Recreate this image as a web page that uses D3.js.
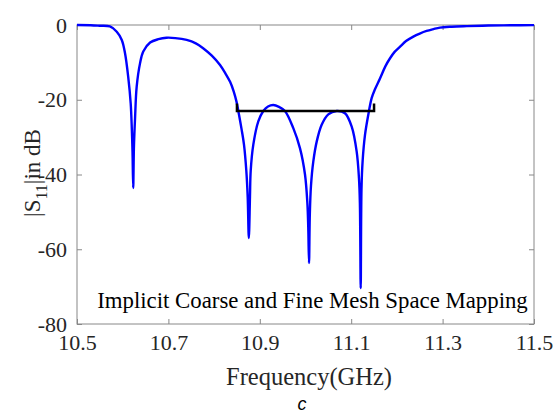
<!DOCTYPE html>
<html><head><meta charset="utf-8">
<script src="https://cdn.jsdelivr.net/npm/d3@7"></script>
<style>body{margin:0;background:#fff}svg{display:block}</style>
</head><body>
<script>
const freq = [10.50,10.53,10.55,10.572,10.587,10.598,10.605,10.612,10.6175,10.620,10.6215,10.623,10.6245,10.627,10.6306,10.638,10.645,10.660,10.678,10.696,10.715,10.74,10.76,10.776,10.795,10.813,10.825,10.835,10.843,10.849,10.8545,10.8600,10.8654,10.8705,10.8735,10.876,10.8785,10.8801,10.8858,10.8967,10.9077,10.918,10.9295,10.942,10.955,10.9733,10.988,10.9989,11.004,11.006,11.0077,11.0095,11.012,11.0171,11.0245,11.0354,11.0499,11.0683,11.0864,11.1011,11.112,11.117,11.119,11.1208,11.1225,11.125,11.1302,11.1374,11.1449,11.152,11.163,11.175,11.185,11.195,11.207,11.22,11.236,11.25,11.265,11.28,11.294,11.32,11.353,11.4,11.45,11.5];
const s11 = [0,-0.05,-0.2,-0.4,-1.8,-4,-7.5,-13.8,-21,-28,-34,-43.6,-33,-25,-16.5,-10.2,-7.1,-4.7,-3.8,-3.4,-3.5,-4.0,-4.9,-6.2,-8.2,-10.7,-13,-15.2,-17.8,-20.5,-24,-27.8,-32,-39,-46,-57,-46,-39,-32,-25.8,-23,-21.8,-21.4,-21.9,-23,-27.6,-33,-40,-47.5,-54,-63.7,-50.5,-43,-36.5,-31.2,-26.7,-23.9,-23,-23.6,-27.2,-33.9,-41,-47.6,-70.4,-44,-36.4,-29.4,-24,-19.5,-17.2,-14.3,-11,-8.9,-7.2,-5.8,-4.3,-3.1,-2.3,-1.6,-1.1,-0.7,-0.45,-0.3,-0.15,-0.07,-0.03];
const specFreq = [10.85, 11.15];
const specLevel = -23;
const specTop = -21;
const xTicks = [10.5,10.7,10.9,11.1,11.3,11.5];
const yTicks = [0,-20,-40,-60,-80];
const annotation = "Implicit Coarse and Fine Mesh Space Mapping";

const W=560,H=415;
const m={l:77,t:25,r:534,b:324};
const svg=d3.select("body").append("svg").attr("width",W).attr("height",H);
const x=d3.scaleLinear().domain([10.5,11.5]).range([m.l,m.r]);
const y=d3.scaleLinear().domain([-80,0]).range([m.b,m.t]);
const axCol="#262626", lineCol="#888";
const serif="'Liberation Serif','Times New Roman',serif";

// box
svg.append("rect").attr("x",m.l).attr("y",m.t).attr("width",m.r-m.l).attr("height",m.b-m.t)
  .attr("fill","none").attr("stroke",lineCol).attr("stroke-width",1);

// axes
const fmtX=d=>d3.format(".1f")(d);
const xb=svg.append("g").attr("transform",`translate(0,${m.b})`)
  .call(d3.axisBottom(x).tickValues(xTicks).tickSizeInner(-5).tickSizeOuter(0).tickPadding(10).tickFormat(fmtX));
const xt=svg.append("g").attr("transform",`translate(0,${m.t})`)
  .call(d3.axisTop(x).tickValues(xTicks).tickSizeInner(-5).tickSizeOuter(0).tickFormat(""));
const yl=svg.append("g").attr("transform",`translate(${m.l},0)`)
  .call(d3.axisLeft(y).tickValues(yTicks).tickSizeInner(-5).tickSizeOuter(0).tickPadding(10).tickFormat(d=>d));
const yr=svg.append("g").attr("transform",`translate(${m.r},0)`)
  .call(d3.axisRight(y).tickValues(yTicks).tickSizeInner(-5).tickSizeOuter(0).tickFormat(""));
[xb,xt,yl,yr].forEach(g=>{
  g.select(".domain").remove();
  g.selectAll(".tick line").attr("stroke",lineCol);
  g.selectAll("text").attr("font-family",serif).attr("font-size",22).attr("fill",axCol);
});
xb.selectAll("text").attr("dy","0.71em");

// curve
const clipId="plotclip";
svg.append("clipPath").attr("id",clipId).append("rect").attr("x",m.l).attr("y",m.t-3).attr("width",m.r-m.l).attr("height",m.b-m.t+3);
const data=freq.map((f,i)=>[f,s11[i]]);
svg.append("path").datum(data).attr("clip-path",`url(#${clipId})`)
  .attr("d",d3.line().x(d=>x(d[0])).y(d=>y(d[1])).curve(d3.curveCatmullRom.alpha(0.5)))
  .attr("fill","none").attr("stroke","#0000ff").attr("stroke-width",2.4).attr("stroke-linejoin","round");

// spec bracket
svg.append("path")
  .attr("d",`M${x(specFreq[0])},${y(specTop)}V${y(specLevel)}H${x(specFreq[1])}V${y(specTop)}`)
  .attr("fill","none").attr("stroke","#000").attr("stroke-width",2.5);

// annotation
svg.append("text").attr("x",312.5).attr("y",308).attr("text-anchor","middle")
  .attr("font-family",serif).attr("font-size",22.8).attr("fill","#000").text(annotation);

// x label
svg.append("text").attr("x",309).attr("y",385).attr("text-anchor","middle")
  .attr("font-family",serif).attr("font-size",24.5).attr("fill",axCol).text("Frequency(GHz)");

// y label
const yt=svg.append("text").attr("transform",`translate(40,173) rotate(-90)`)
  .attr("text-anchor","middle").attr("font-family",serif).attr("font-size",23).attr("fill",axCol);
yt.append("tspan").text("|S");
yt.append("tspan").attr("dy",7).attr("font-size",16).text("11");
yt.append("tspan").attr("dy",-7).text("|in dB");

// caption
svg.append("text").attr("x",302).attr("y",410).attr("text-anchor","middle")
  .attr("font-family","'Liberation Sans',Arial,sans-serif").attr("font-style","italic").attr("font-size",18).attr("fill","#000").text("c");
</script>
</body></html>
